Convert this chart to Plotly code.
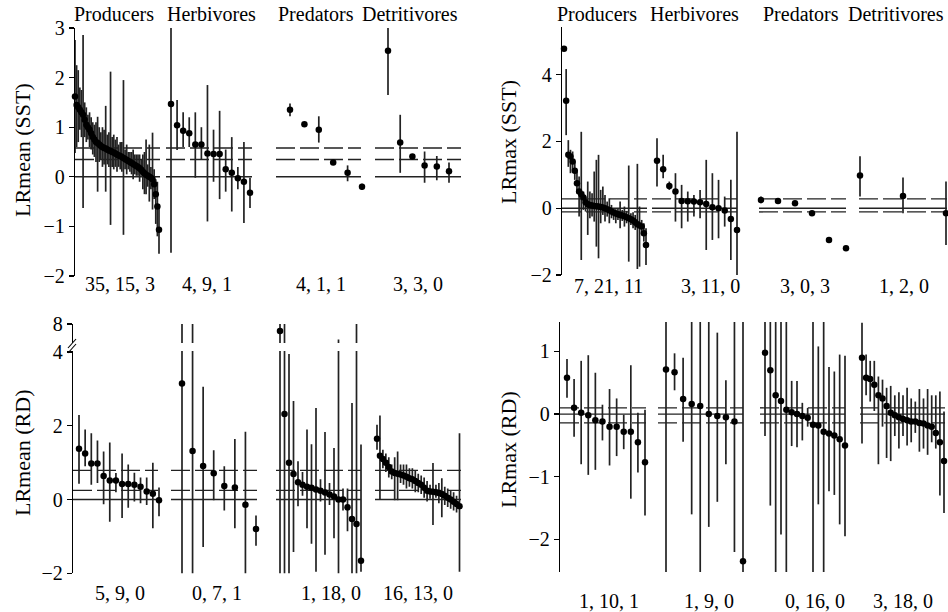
import plotly.graph_objects as go

GROUPS = ["Producers", "Herbivores", "Predators", "Detritivores"]

# ---------------- Panel A : LRmean (SST) ----------------
A_PROD_MEAN = [1.62, 1.45, 1.40, 1.35, 1.30, 1.25, 1.15, 1.05, 1.00, 0.95, 0.88, 0.80, 0.75, 0.70, 0.68,
               0.65, 0.62, 0.60, 0.58, 0.57, 0.55, 0.53, 0.52, 0.50, 0.49, 0.47, 0.45, 0.43, 0.42, 0.40,
               0.38, 0.36, 0.34, 0.32, 0.30, 0.28, 0.26, 0.24, 0.22, 0.20, 0.17, 0.14, 0.10, 0.07, 0.04,
               0.02, 0.00, -0.02, -0.05, -0.15, -0.35, -0.60, -1.07]
A_PROD_LO = [0.48, 0.60, 0.70, 0.95, 0.80, -0.63, 0.80, 0.70, 0.75, 0.60, 0.55, 0.45, 0.40, 0.30, -0.30,
             0.30, 0.35, 0.20, 0.25, -0.30, 0.25, 0.20, -0.97, 0.20, 0.15, 0.20, 0.10, 0.20, 0.15, 0.10,
             -1.17, 0.15, 0.05, 0.15, 0.10, 0.05, -0.05, 0.05, 0.02, 0.02, -0.10, 0.02, -0.25, -0.35, -0.35,
             -0.20, -0.50, -0.25, -0.66, -0.45, -0.95, -1.20, -1.55]
A_PROD_HI = [2.76, 2.25, 2.15, 1.80, 1.75, 2.86, 1.50, 1.40, 1.25, 1.30, 1.20, 1.10, 1.05, 1.10, 1.21,
             1.00, 0.90, 1.00, 0.95, 1.43, 0.85, 0.90, 2.12, 0.80, 0.85, 0.75, 0.80, 0.65, 0.70, 0.70,
             1.95, 0.55, 0.65, 0.50, 0.50, 0.50, 0.55, 0.45, 0.45, 0.45, 0.45, 0.35, 0.45, 0.50, 0.75,
             0.25, 0.65, 0.20, 0.89, 0.15, -0.05, -0.10, -0.60]
A_HERB_MEAN = [1.47, 1.04, 0.93, 0.88, 0.65, 0.65, 0.47, 0.46, 0.46, 0.15, 0.08, -0.03, -0.10, -0.32]
A_HERB_LO = [-1.53, 0.54, 0.60, 0.60, -0.02, 0.35, -0.90, -0.10, -0.45, -0.30, -0.70, -0.25, -0.93, -0.63]
A_HERB_HI = [3.05, 1.55, 1.30, 1.20, 1.30, 1.00, 1.85, 0.95, 1.33, 0.55, 0.80, 0.20, 0.70, -0.02]
A_PRED_MEAN = [1.35, 1.06, 0.95, 0.29, 0.08, -0.20]
A_PRED_LO = [1.22, 1.02, 0.69, 0.26, -0.09, -0.26]
A_PRED_HI = [1.48, 1.10, 1.22, 0.32, 0.23, -0.14]
A_DETR_MEAN = [2.54, 0.69, 0.41, 0.23, 0.21, 0.11]
A_DETR_LO = [1.65, 0.08, 0.36, -0.12, -0.07, -0.12]
A_DETR_HI = [3.05, 1.25, 0.46, 0.51, 0.42, 0.29]
A_COUNTS = ["35, 15, 3", "4, 9, 1", "4, 1, 1", "3, 3, 0"]
A_CI = [0.35, 0.58]

# ---------------- Panel B : LRmax (SST) ----------------
B_PROD_MEAN = [4.78, 3.22, 1.60, 1.55, 1.40, 1.12, 0.75, 0.50, 0.42, 0.32, 0.18, 0.12, 0.10, 0.08, 0.07,
               0.06, 0.05, 0.04, 0.02, 0.00, -0.03, -0.06, -0.10, -0.13, -0.16, -0.18, -0.20, -0.22, -0.24,
               -0.27, -0.30, -0.33, -0.37, -0.42, -0.48, -0.52, -0.55, -0.75, -1.10]
B_PROD_LO = [4.72, 2.19, 1.24, 1.05, 1.15, 0.85, 0.45, -0.25, -1.55, -0.05, -0.10, -0.80, -0.30, -0.25, -0.40,
             -1.15, -1.50, -0.45, -0.20, -0.40, -0.25, -0.45, -0.30, -0.35, -0.45, -0.35, -0.60, -0.38, -0.55,
             -0.45, -1.60, -0.50, -0.60, -0.65, -1.82, -1.75, -0.75, -1.00, -1.70]
B_PROD_HI = [4.84, 4.17, 2.04, 1.75, 1.70, 1.40, 1.10, 0.95, 2.29, 0.50, 0.35, 0.80, 0.50, 0.45, 1.10,
             1.45, 1.60, 0.55, 0.65, 0.40, 0.20, 0.30, 0.10, -0.02, -0.03, -0.02, 0.20, -0.05, 0.05,
             -0.08, 1.28, -0.15, -0.12, -0.20, 1.33, 0.05, -0.35, -0.45, -0.60]
B_HERB_MEAN = [1.42, 1.17, 0.67, 0.50, 0.22, 0.21, 0.20, 0.18, 0.13, 0.03, 0.00, -0.07, -0.32, -0.65]
B_HERB_LO = [0.65, 0.90, 0.55, -0.40, -0.60, -0.40, -0.25, -0.30, -1.25, -0.95, -0.90, -0.55, -1.55, -2.00]
B_HERB_HI = [2.10, 1.60, 0.80, 1.05, 0.70, 0.50, 0.40, 0.55, 1.45, 1.05, 0.85, 0.35, 0.85, 2.29]
B_PRED_MEAN = [0.25, 0.22, 0.15, -0.15, -0.95, -1.20]
B_PRED_LO = [0.15, 0.18, 0.12, -0.18, -1.03, -1.24]
B_PRED_HI = [0.35, 0.26, 0.19, -0.12, -0.87, -1.16]
B_DETR_MEAN = [0.98, 0.37, -0.15]
B_DETR_LO = [0.35, -0.15, -1.10]
B_DETR_HI = [1.56, 0.92, 0.80]
B_COUNTS = ["7, 21, 11", "3, 11, 0", "3, 0, 3", "1, 2, 0"]
B_CI = [-0.11, 0.28]

# ---------------- Panel C : LRmean (RD) ----------------
C_PROD_MEAN = [1.38, 1.25, 0.98, 0.98, 0.64, 0.52, 0.52, 0.42, 0.42, 0.40, 0.35, 0.22, 0.16, -0.02]
C_PROD_LO = [0.43, 0.90, 0.40, 0.45, -0.13, -0.60, 0.20, -0.50, -0.22, -0.05, -0.10, -0.15, -0.78, -0.45]
C_PROD_HI = [2.29, 1.90, 1.80, 1.60, 1.30, 1.55, 0.72, 1.25, 0.95, 0.73, 0.60, 0.60, 1.00, 0.33]
C_HERB_MEAN = [3.15, 1.32, 0.91, 0.71, 0.37, 0.33, -0.14, -0.80]
C_HERB_LO = [-5.0, -5.0, -1.29, -0.02, -0.30, -0.78, -3.0, -1.25]
C_HERB_HI = [12.0, 12.0, 3.06, 1.34, 0.90, 1.64, 1.84, -0.43]
C_PRED_MEAN = [7.00, 2.32, 1.00, 0.69, 0.47, 0.40, 0.35, 0.32, 0.27, 0.24, 0.19, 0.14, 0.08, 0.00, 0.00,
               -0.21, -0.53, -0.66, -1.66]
C_PRED_LO = [-5.0, -5.0, -5.0, -1.42, -0.18, 0.10, -0.78, -1.20, -1.96, -0.05, -1.50, -0.15, -1.05, -5.0, -0.30,
             -0.86, -5.0, -5.0, -1.96]
C_PRED_HI = [12.0, 12.0, 3.95, 2.67, 1.04, 0.75, 1.90, 1.50, 2.48, 0.55, 1.83, 0.45, 1.40, 5.80, 0.30,
             0.30, 2.62, 12.0, 1.49]
C_DETR_MEAN = [1.65, 1.19, 1.10, 1.00, 0.88, 0.76, 0.72, 0.70, 0.68, 0.65, 0.62, 0.58, 0.55, 0.50, 0.45,
               0.40, 0.32, 0.24, 0.22, 0.21, 0.20, 0.18, 0.15, 0.10, 0.05, 0.00, -0.06, -0.12, -0.18]
C_DETR_LO = [1.35, -0.01, 0.85, 0.75, 0.60, 0.55, -0.02, -0.02, 0.45, 0.40, 0.30, 0.35, 0.30, 0.20, 0.20,
             0.15, 0.05, -0.05, 0.02, -0.69, 0.05, -0.10, -0.48, -0.15, -0.20, -0.25, -0.30, -0.35, -1.96]
C_DETR_HI = [2.03, 2.28, 1.35, 1.25, 1.15, 0.95, 1.15, 1.30, 0.95, 0.95, 0.95, 0.85, 0.85, 0.80, 0.70,
             0.65, 0.60, 0.50, 0.40, 0.99, 0.40, 0.45, 0.58, 0.35, 0.30, 0.25, 0.20, 0.10, 1.80]
C_COUNTS = ["5, 9, 0", "0, 7, 1", "1, 18, 0", "16, 13, 0"]
C_CI = [0.25, 0.79]

# ---------------- Panel D : LRmax (RD) ----------------
D_PROD_MEAN = [0.58, 0.10, 0.02, -0.02, -0.10, -0.12, -0.20, -0.20, -0.28, -0.28, -0.45, -0.77]
D_PROD_LO = [0.26, -0.36, -0.80, -0.97, -0.89, -0.42, -0.82, -0.67, -0.56, -1.35, -0.93, -1.62]
D_PROD_HI = [0.88, 0.56, 0.85, 0.94, 0.66, 0.15, 0.40, 0.25, -0.01, 0.78, 0.02, 0.07]
D_HERB_MEAN = [0.71, 0.67, 0.24, 0.16, 0.13, 0.00, -0.03, -0.05, -0.12, -2.35]
D_HERB_LO = [-3.0, 0.38, -0.44, -1.60, -3.0, -1.80, -1.40, -0.80, -2.20, -3.0]
D_HERB_HI = [2.0, 0.97, 0.90, 2.0, 2.0, 2.0, 1.30, 0.54, 2.0, 2.0]
D_PRED_MEAN = [0.98, 0.70, 0.30, 0.21, 0.07, 0.03, 0.00, -0.03, -0.06, -0.17, -0.18, -0.28, -0.31, -0.34,
               -0.40, -0.50]
D_PRED_LO = [-0.35, -1.46, -3.0, -1.92, -3.0, -0.51, -0.53, -0.42, -0.20, -3.0, -1.44, -3.0, -1.23, -1.29,
             -1.76, -1.95]
D_PRED_HI = [2.0, 2.0, 2.0, 2.0, 2.0, 0.53, 0.53, 0.18, 0.10, 2.0, 1.08, 2.0, 0.75, 0.68, 0.95, 0.93]
D_DETR_MEAN = [0.90, 0.58, 0.56, 0.47, 0.30, 0.25, 0.13, 0.02, -0.02, -0.05, -0.08, -0.10, -0.12, -0.12,
               -0.14, -0.15, -0.18, -0.20, -0.30, -0.45, -0.75]
D_DETR_LO = [-0.47, 0.30, 0.20, 0.05, -0.80, -0.20, -0.70, -0.75, -0.35, -0.55, -0.35, -0.50, -0.45, -0.30,
             -0.60, -0.55, -0.65, -0.45, -0.55, -1.30, -1.58]
D_DETR_HI = [1.46, 0.95, 0.85, 0.85, 0.60, 0.55, 0.42, 0.45, 0.30, 0.35, 0.30, 0.42, 0.25, 0.20,
             0.40, 0.25, 0.40, 0.30, 0.30, 0.36, 0.04]
D_COUNTS = ["1, 10, 1", "1, 9, 0", "0, 16, 0", "3, 18, 0"]
D_CI = [-0.14, 0.10]

# ---------------- layout configuration (pixels of the 948x612 page) ----------------
W, H = 948, 612
FONT = "Liberation Serif"
BRK_K = 7.0 / 36.8  # compression above 4 on the broken axis


def brk(v):
    return v if v <= 4 else 4 + (v - 4) * BRK_K


PANELS = [
    dict(title="LRmean (SST)", title_xy=(22, 150), x_px=(75, 465), y_px=(28, 276), yrange=(-2, 3),
         tickvals=[-2, -1, 0, 1, 2, 3], ticktext=None,
         data=[(A_PROD_MEAN, A_PROD_LO, A_PROD_HI), (A_HERB_MEAN, A_HERB_LO, A_HERB_HI),
               (A_PRED_MEAN, A_PRED_LO, A_PRED_HI), (A_DETR_MEAN, A_DETR_LO, A_DETR_HI)],
         lines=[(75, 160), (166, 252), (276, 361), (375, 461)],
         pts=[(75, 159), (171, 250), (290, 362), (388, 449)],
         counts=A_COUNTS, count_x=[120, 207, 321, 418], count_y=284, ci=A_CI,
         headers=[114, 211, 316, 410], broken=False),
    dict(title="LRmax (SST)", title_xy=(508, 142), x_px=(562, 948), y_px=(27, 275), yrange=(-2, 5.43),
         tickvals=[-2, 0, 2, 4], ticktext=None,
         data=[(B_PROD_MEAN, B_PROD_LO, B_PROD_HI), (B_HERB_MEAN, B_HERB_LO, B_HERB_HI),
               (B_PRED_MEAN, B_PRED_LO, B_PRED_HI), (B_DETR_MEAN, B_DETR_LO, B_DETR_HI)],
         lines=[(562, 647), (652, 737), (759, 846), (859, 947)],
         pts=[(564, 646), (657, 737), (761, 846), (860, 946)],
         counts=B_COUNTS, count_x=[608, 710, 805, 904], count_y=286, ci=B_CI,
         headers=[597, 694, 801, 896], broken=False),
    dict(title="LRmean (RD)", title_xy=(22, 453), x_px=(73, 465), y_px=(324, 573.3), yrange=(-2, brk(8)),
         tickvals=[-2, 0, 2, 4, brk(8)], ticktext=["\u22122", "0", "2", "4", "8"],
         data=[(C_PROD_MEAN, C_PROD_LO, C_PROD_HI), (C_HERB_MEAN, C_HERB_LO, C_HERB_HI),
               (C_PRED_MEAN, C_PRED_LO, C_PRED_HI), (C_DETR_MEAN, C_DETR_LO, C_DETR_HI)],
         lines=[(73, 158), (171, 257), (276, 361), (375, 461)],
         pts=[(79, 159), (182, 256), (280, 361), (377, 459.5)],
         counts=C_COUNTS, count_x=[120, 217, 331, 418], count_y=593, ci=C_CI,
         headers=None, broken=True),
    dict(title="LRmax (RD)", title_xy=(508, 450), x_px=(560, 948), y_px=(322, 572), yrange=(-2.52, 1.47),
         tickvals=[-2, -1, 0, 1], ticktext=None,
         data=[(D_PROD_MEAN, D_PROD_LO, D_PROD_HI), (D_HERB_MEAN, D_HERB_LO, D_HERB_HI),
               (D_PRED_MEAN, D_PRED_LO, D_PRED_HI), (D_DETR_MEAN, D_DETR_LO, D_DETR_HI)],
         lines=[(560, 646), (658, 743), (760, 845), (860, 945)],
         pts=[(567, 645), (666, 743), (765, 845), (862, 944)],
         counts=D_COUNTS, count_x=[609, 709, 815, 903], count_y=601, ci=D_CI,
         headers=None, broken=False),
]

INK = "#222222"
TXT = 20
fig = go.Figure()
shapes = []
annotations = []
layout_axes = {}


def px_x(px):
    return px / W


def px_y(py):
    return 1 - py / H


for k, P in enumerate(PANELS):
    sfx = "" if k == 0 else str(k + 1)
    xa, ya = "x" + sfx, "y" + sfx
    layout_axes["xaxis" + sfx] = dict(domain=[px_x(P["x_px"][0]), px_x(P["x_px"][1])],
                                      range=list(P["x_px"]), visible=False, anchor=ya,
                                      automargin=False)
    ydict = dict(domain=[px_y(P["y_px"][1]), px_y(P["y_px"][0])], range=list(P["yrange"]),
                 anchor=xa, showgrid=False, zeroline=False, showline=True, linecolor="black",
                 linewidth=1.3, ticks="outside", ticklen=5, tickwidth=1.3, tickcolor="black",
                 automargin=False, tickvals=P["tickvals"],
                 tickfont=dict(family=FONT, size=TXT, color="black"))
    if P["ticktext"] is not None:
        ydict["ticktext"] = P["ticktext"]
    layout_axes["yaxis" + sfx] = ydict

    f = brk if P["broken"] else (lambda v: v)
    for g, (mean, lo, hi) in enumerate(P["data"]):
        n = len(mean)
        p0, p1 = P["pts"][g]
        xs = [p0 + i * (p1 - p0) / (n - 1) if n > 1 else (p0 + p1) / 2 for i in range(n)]
        m = [f(v) for v in mean]
        up = [f(h) - mm for h, mm in zip(hi, m)]
        dn = [mm - f(l) for l, mm in zip(lo, m)]
        fig.add_trace(go.Scatter(
            x=xs, y=m, mode="markers", xaxis=xa, yaxis=ya, cliponaxis=False,
            marker=dict(size=6.5, color="black"),
            error_y=dict(type="data", symmetric=False, array=up, arrayminus=dn,
                         width=0, thickness=1.7, color=INK),
            hoverinfo="skip", showlegend=False))
        l0, l1 = P["lines"][g]
        shapes.append(dict(type="line", xref=xa, yref=ya, x0=l0, x1=l1, y0=0, y1=0,
                           line=dict(color=INK, width=1.4), layer="below"))
        for c in P["ci"]:
            shapes.append(dict(type="line", xref=xa, yref=ya, x0=l0, x1=l1, y0=c, y1=c,
                               line=dict(color=INK, width=1.4, dash="19px,5px"), layer="below"))
        annotations.append(dict(text=P["counts"][g], x=px_x(P["count_x"][g]), y=px_y(P["count_y"]),
                                xref="paper", yref="paper", showarrow=False, xanchor="center",
                                yanchor="middle", font=dict(family=FONT, size=TXT, color="black")))
        if P["headers"] is not None:
            annotations.append(dict(text=GROUPS[g], x=px_x(P["headers"][g]), y=px_y(14),
                                    xref="paper", yref="paper", showarrow=False, xanchor="center",
                                    yanchor="middle", font=dict(family=FONT, size=TXT, color="black")))
    tx, ty = P["title_xy"]
    annotations.append(dict(text=P["title"], x=px_x(tx), y=px_y(ty), xref="paper", yref="paper",
                            showarrow=False, textangle=-90, xanchor="center", yanchor="middle",
                            font=dict(family=FONT, size=22, color="black")))
    if P["broken"]:
        ax = P["x_px"][0]
        shapes.append(dict(type="rect", xref="paper", yref="paper", x0=px_x(ax - 3), x1=px_x(P["x_px"][1]),
                           y0=px_y(351), y1=px_y(343), fillcolor="white", line=dict(width=0), layer="above"))
        for dy in (0, 5):
            shapes.append(dict(type="line", xref="paper", yref="paper",
                               x0=px_x(ax - 5), y0=px_y(348 + dy), x1=px_x(ax + 3), y1=px_y(339 + dy),
                               line=dict(color="black", width=1.1), layer="above"))

fig.update_layout(width=W, height=H, margin=dict(l=0, r=0, t=0, b=0, pad=0), autosize=False,
                  paper_bgcolor="white", plot_bgcolor="white", showlegend=False, hovermode=False,
                  shapes=shapes, annotations=annotations, **layout_axes)

fig.write_html("out.html", config={"displayModeBar": False, "staticPlot": True},
               post_script="document.body.style.margin='0';document.body.style.overflow='hidden';")
